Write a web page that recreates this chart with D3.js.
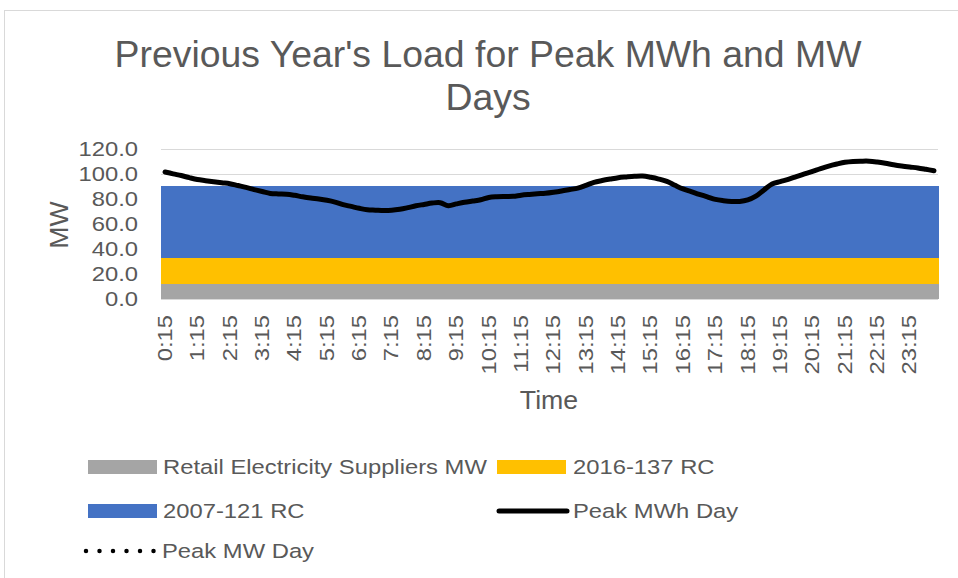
<!DOCTYPE html>
<html>
<head>
<meta charset="utf-8">
<script src="https://cdn.jsdelivr.net/npm/d3@7"></script>
<style>
  html, body { margin: 0; padding: 0; background: #fff; }
  svg { display: block; font-family: "Liberation Sans", Arial, sans-serif; }
</style>
</head>
<body>
<svg id="chart" width="958" height="578"></svg>
<script>
// ---------- DATA ----------
const categories = d3.range(96).map(i => {
  const m = (i + 1) * 15;
  return Math.floor(m / 60) + ":" + String(m % 60).padStart(2, "0");
});
const tickLabels = ["0:15","1:15","2:15","3:15","4:15","5:15","6:15","7:15","8:15","9:15","10:15","11:15",
                    "12:15","13:15","14:15","15:15","16:15","17:15","18:15","19:15","20:15","21:15","22:15","23:15"];
const yTicks = [0, 20, 40, 60, 80, 100, 120];

const retailMW = Array(96).fill(12.5);   // Retail Electricity Suppliers MW
const rc2016   = Array(96).fill(20.5);   // 2016-137 RC
const rc2007   = Array(96).fill(58.0);   // 2007-121 RC

const peakMWhDay = [
  101.8,100.3, 99.0, 97.3, 95.8, 94.9, 94.0, 93.2, 92.5, 91.0, 89.5, 87.8,
   86.2, 84.7, 84.3, 84.1, 83.2, 82.0, 81.0, 80.2, 79.2, 77.8, 75.8, 74.3,
   72.8, 71.6, 71.3, 71.0, 71.2, 72.0, 73.3, 74.8, 75.9, 77.0, 77.3, 74.9,
   76.3, 77.6, 78.6, 79.6, 81.5, 82.1, 82.3, 82.4, 83.3, 83.9, 84.4, 84.8,
   85.6, 86.6, 87.8, 89.0, 91.2, 93.6, 95.0, 96.2, 97.3, 97.9, 98.4, 98.6,
   97.6, 96.2, 94.3, 91.2, 88.3, 86.2, 84.0, 82.0, 79.9, 78.9, 78.3, 78.3,
   79.5, 82.5, 87.5, 92.2, 94.2, 96.0, 98.2,100.3,102.4,104.6,106.6,108.2,
  109.6,110.3,110.5,110.5,109.8,108.8,107.6,106.6,105.8,105.1,104.0,102.8
];

const seriesNames = ["Retail Electricity Suppliers MW", "2016-137 RC", "2007-121 RC", "Peak MWh Day", "Peak MW Day"];
const seriesColors = ["#A5A5A5", "#FFC000", "#4472C4", "#000000", "#000000"];
const titleLines = ["Previous Year's Load for Peak MWh and MW", "Days"];

// ---------- LAYOUT ----------
const svg = d3.select("#chart");
const L = 161, R = 938, T = 149.3, B = 299.3;
const textColor = "#595959";
const SX = 1.22; // horizontal stretch of small text in the reference
const FS = "19.5px";

svg.append("rect").attr("x", 4.5).attr("y", 10.5).attr("width", 1000).attr("height", 1000)
  .attr("fill", "#fff").attr("stroke", "#D9D9D9").attr("stroke-width", 1);

const x = d3.scaleBand().domain(categories).range([L, R]).padding(0);
const y = d3.scaleLinear().domain([0, 120]).range([B, T]);

// title
svg.append("g").selectAll("text").data(titleLines).join("text")
  .attr("x", 488).attr("y", (d, i) => 67 + i * 43)
  .attr("text-anchor", "middle").attr("fill", textColor)
  .attr("font-size", "37.4px").text(d => d);

// gridlines
svg.append("g").selectAll("line").data(yTicks).join("line")
  .attr("x1", L).attr("x2", R)
  .attr("y1", d => Math.round(y(d)) + 0.5).attr("y2", d => Math.round(y(d)) + 0.5)
  .attr("stroke", "#D9D9D9").attr("stroke-width", 1);

// stacked columns (gap 0)
const stackData = categories.map((c, i) => ({ cat: c, a: retailMW[i], b: rc2016[i], c: rc2007[i] }));
const stack = d3.stack().keys(["a", "b", "c"])(stackData);
svg.append("g").selectAll("g").data(stack).join("g")
  .attr("fill", (d, i) => seriesColors[i])
  .selectAll("rect").data(d => d).join("rect")
  .attr("x", d => x(d.data.cat)).attr("width", x.bandwidth() + 0.6)
  .attr("y", d => y(d[1])).attr("height", d => y(d[0]) - y(d[1]))
  .attr("shape-rendering", "crispEdges");

// x axis baseline
svg.append("line").attr("x1", L).attr("x2", R).attr("y1", Math.round(B) + 0.5).attr("y2", Math.round(B) + 0.5)
  .attr("stroke", "#D9D9D9").attr("stroke-width", 1);

// line series
const line = d3.line()
  .x((d, i) => x(categories[i]) + x.bandwidth() / 2)
  .y(d => y(d))
  .curve(d3.curveCatmullRom.alpha(0.5));
svg.append("path").datum(peakMWhDay).attr("d", line)
  .attr("fill", "none").attr("stroke", "#000").attr("stroke-width", 5)
  .attr("stroke-linecap", "round").attr("stroke-linejoin", "round");

// y tick labels
svg.append("g").selectAll("text").data(yTicks).join("text")
  .attr("transform", d => `translate(138,${y(d)}) scale(${SX},1)`)
  .attr("text-anchor", "end").attr("dominant-baseline", "central")
  .attr("fill", textColor).attr("font-size", FS)
  .text(d => d3.format(".1f")(d));

// x tick labels
svg.append("g").selectAll("text").data(tickLabels).join("text")
  .attr("transform", d => `translate(${x(d) + x.bandwidth() / 2},315) rotate(-90) scale(${SX},1)`)
  .attr("text-anchor", "end").attr("dominant-baseline", "central")
  .attr("fill", textColor).attr("font-size", FS)
  .text(d => d);

// axis titles
svg.append("text").attr("transform", "translate(59,225) rotate(-90)")
  .attr("text-anchor", "middle").attr("dominant-baseline", "central")
  .attr("fill", textColor).attr("font-size", "26.7px").text("MW");
svg.append("text").attr("x", 549).attr("y", 409)
  .attr("text-anchor", "middle").attr("fill", textColor)
  .attr("font-size", "26.7px").text("Time");

// legend
const legendPos = [
  { sx: 88, tx: 163, y: 467, type: "rect" },
  { sx: 497, tx: 573, y: 467, type: "rect" },
  { sx: 88, tx: 163, y: 511, type: "rect" },
  { sx: 497, tx: 573, y: 511, type: "line" },
  { sx: 86, tx: 162, y: 551, type: "dots" }
];
const lg = svg.append("g");
seriesNames.forEach((name, i) => {
  const p = legendPos[i];
  if (p.type === "rect") {
    lg.append("rect").attr("x", p.sx).attr("y", p.y - 7).attr("width", 69).attr("height", 14)
      .attr("fill", seriesColors[i]);
  } else if (p.type === "line") {
    lg.append("line").attr("x1", p.sx + 2).attr("x2", p.sx + 70).attr("y1", p.y).attr("y2", p.y)
      .attr("stroke", seriesColors[i]).attr("stroke-width", 5).attr("stroke-linecap", "round");
  } else {
    lg.append("line").attr("x1", p.sx).attr("x2", p.sx + 68).attr("y1", p.y).attr("y2", p.y)
      .attr("stroke", seriesColors[i]).attr("stroke-width", 4.5).attr("stroke-linecap", "round")
      .attr("stroke-dasharray", "0,13.5");
  }
  lg.append("text").attr("transform", `translate(${p.tx},${p.y}) scale(${SX},1)`)
    .attr("dominant-baseline", "central").attr("fill", textColor).attr("font-size", FS)
    .text(name);
});
</script>
</body>
</html>
